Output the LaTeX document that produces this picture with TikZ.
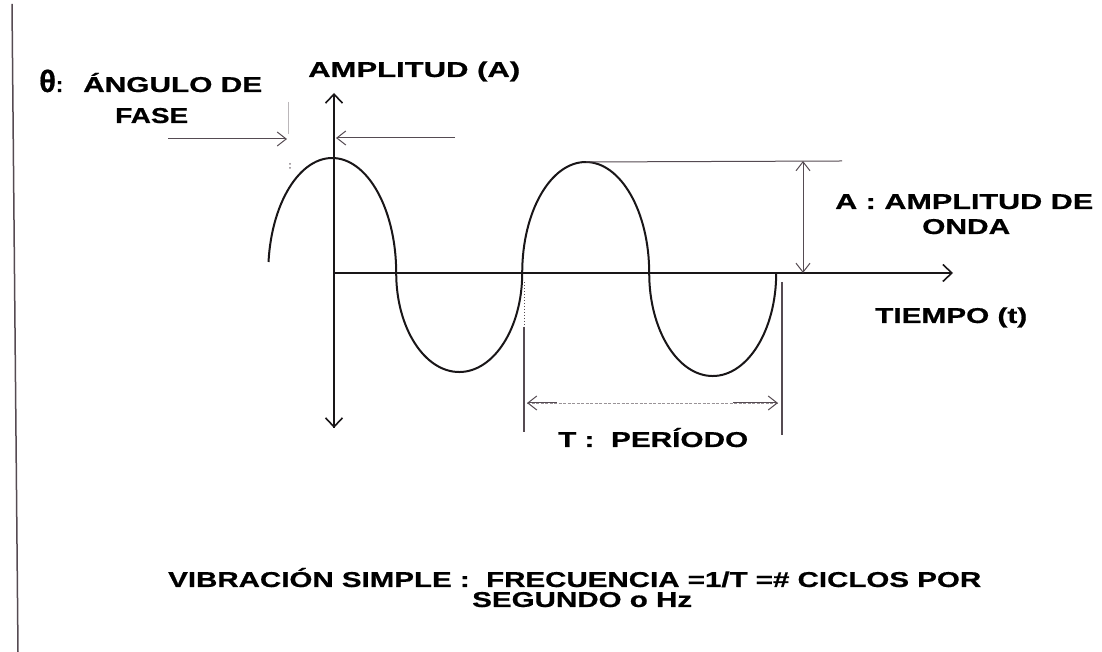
\documentclass[tikz,border=0pt]{standalone}
\usepackage{fontspec}
\setmainfont{Liberation Sans}
\newfontfamily\heavy[FakeBold=0.6]{Liberation Sans Bold}
\usetikzlibrary{arrows.meta,calc}
\definecolor{ink}{RGB}{25,22,24}
\definecolor{thin}{RGB}{85,75,82}
\newcommand{\wt}[2]{\resizebox{#1pt}{\height}{#2}}
\tikzset{
  lbl/.style={inner sep=0pt, anchor=base west, font=\fontsize{21.5}{24}\selectfont\heavy, text=black},
  axis/.style={draw=ink, line width=2.2pt},
  haxis/.style={draw=ink, line width=1.7pt},
  wave/.style={draw=ink, line width=2pt},
  guide/.style={draw=thin, line width=1pt},
  tipA/.style={arrows={-Straight Barb[length=9pt,width=17pt,line width=1.6pt]}},
  tipB/.style={arrows={Straight Barb[length=9pt,width=17pt,line width=1.6pt]-}},
  tipThin/.style={arrows={Straight Barb[length=9pt,width=14pt,line width=1pt]-Straight Barb[length=9pt,width=14pt,line width=1pt]}},
  tipThinL/.style={arrows={Straight Barb[length=9pt,width=14pt,line width=1pt]-}},
  tipThinR/.style={arrows={-Straight Barb[length=9pt,width=14pt,line width=1pt]}}
}
\begin{document}
\begin{tikzpicture}[x=1pt,y=1pt]
\useasboundingbox (0,0) rectangle (1102,652);
\fill[white] (0,0) rectangle (1102,652);

% coordinates
\coordinate (bordTop) at (12,648);
\coordinate (bordBot) at (18,0);
\coordinate (vTop) at (334,559);
\coordinate (vBot) at (334,224);
\coordinate (origin) at (334,379);
\coordinate (hEnd) at (953,379);
\coordinate (waveStart) at (268.5,390);
\coordinate (peak2) at (586,490);
\coordinate (ampTopEnd) at (842,491);
\coordinate (ampTop) at (803,491);
\coordinate (ampBot) at (803,379);
\coordinate (phL1) at (168,513);
\coordinate (phL2) at (287,513);
\coordinate (phR1) at (455,514);
\coordinate (phR2) at (336,514);
\coordinate (perLtop) at (524,370);
\coordinate (perLmid) at (524,325);
\coordinate (perLbot) at (524,220);
\coordinate (perRtop) at (782,370);
\coordinate (perRbot) at (782,217);
\coordinate (perA) at (527,249);
\coordinate (perB) at (778,249);
\coordinate (perA2) at (557,249);
\coordinate (perB2) at (733,249);

% left border line
\draw[draw=thin, line width=1.5pt] (bordTop) -- (bordBot);

% wave
\draw[wave] (waveStart)
  arc[start angle=174.5, end angle=0, x radius=64pt, y radius=115pt]
  arc[start angle=180, end angle=360, x radius=63pt, y radius=99pt]
  arc[start angle=180, end angle=0, x radius=63.5pt, y radius=111pt]
  arc[start angle=180, end angle=360, x radius=63.5pt, y radius=103pt];

% axes
\draw[axis, tipA] (vBot) -- (vTop);
\draw[axis, tipB] (vBot) -- (origin);
\draw[haxis, tipA] (origin) -- (hEnd);

% phase angle arrows
\draw[guide, tipThinR] (phL1) -- (phL2);
\draw[guide, tipThinR] (phR1) -- (phR2);
\draw[draw=thin!40, line width=0.6pt] (288,550) -- (288,518);
\fill[thin!70] (290,488) circle (1pt) (290,484) circle (1pt);

% amplitude
\draw[guide] (peak2) -- (ampTopEnd);
\draw[guide, tipThin] (ampTop) -- (ampBot);

% period
\draw[draw=thin, line width=1pt, dotted] (perLtop) -- (perLmid);
\draw[draw=thin, line width=1.3pt] (perLmid) -- (perLbot);
\draw[draw=thin, line width=1.3pt] (perRtop) -- (perRbot);
\draw[draw=thin!60, line width=0.8pt, dash pattern=on 3pt off 1.5pt] (perA) -- (perB);
\draw[guide, tipThinL] (perA) -- (perA2);
\draw[guide, tipThinR] (perB2) -- (perB);

% labels
\node[lbl] (theta) at (39,560) {\fontsize{31}{32}\selectfont θ\fontsize{21.5}{24}\selectfont:};
\node[lbl] (angulo) at (83,560) {\wt{179}{ÁNGULO DE}};
\node[lbl] (fase) at (115,529) {\wt{73}{FASE}};
\node[lbl] (amplitud) at (308,575) {\wt{212}{AMPLITUD (A)}};
\node[lbl] (ampa) at (835,443) {\wt{258}{A : AMPLITUD DE}};
\node[lbl] (onda) at (922,418) {\wt{88}{ONDA}};
\node[lbl] (tiempo) at (875,329) {\wt{152}{TIEMPO (t)}};
\node[lbl] (periodo) at (558,205) {\wt{190}{T :\ \ PERÍODO}};
\node[lbl] (vib1) at (168,65) {\wt{813}{VIBRACIÓN SIMPLE :\ \ FRECUENCIA =1/T =\# CICLOS POR}};
\node[lbl] (vib2) at (472,45) {\wt{220}{SEGUNDO o Hz}};
\end{tikzpicture}
\end{document}
